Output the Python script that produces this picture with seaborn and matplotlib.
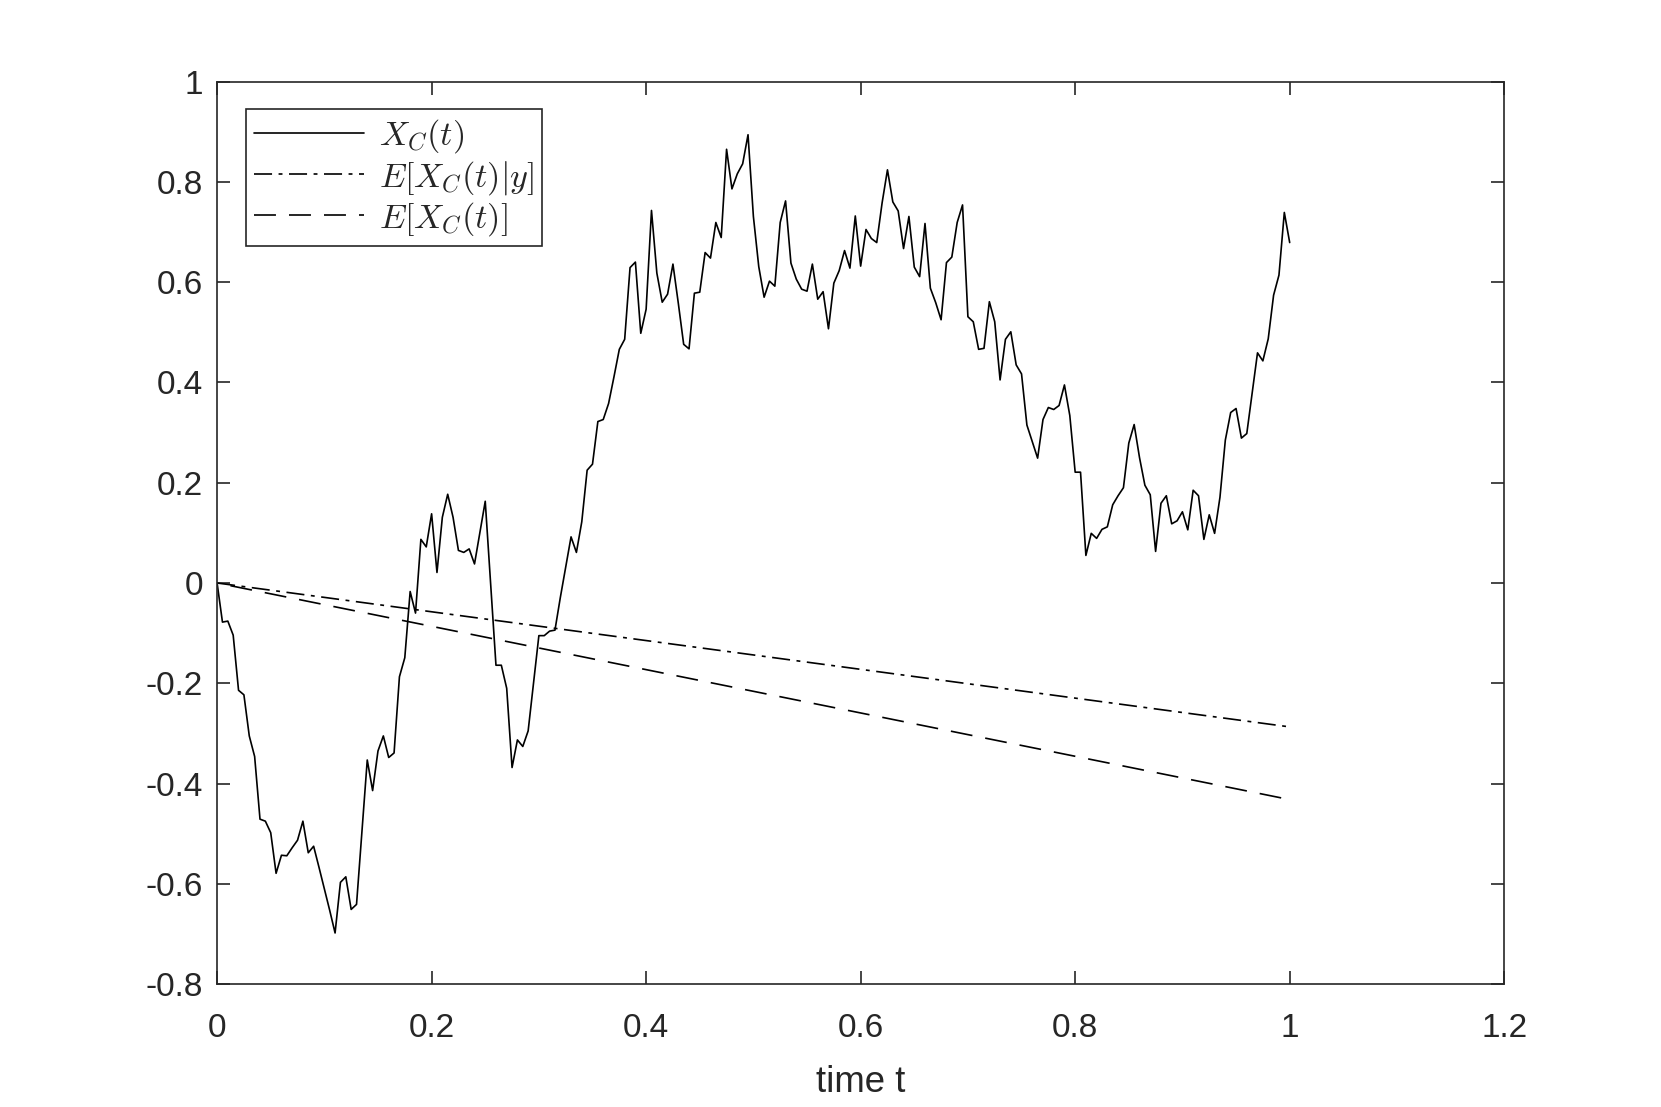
import numpy as np
import matplotlib
matplotlib.use("Agg")
import matplotlib.pyplot as plt
import seaborn as sns

# sampled path X_C(t), 201 points on t = 0 .. 1
x_path = [
    0.000, -0.078, -0.076, -0.104, -0.214, -0.223, -0.305, -0.346, -0.471, -0.475,
    -0.498, -0.579, -0.543, -0.544, -0.528, -0.513, -0.475, -0.538, -0.525, -0.567,
    -0.610, -0.653, -0.698, -0.597, -0.586, -0.651, -0.641, -0.497, -0.353, -0.414,
    -0.335, -0.305, -0.348, -0.339, -0.187, -0.149, -0.017, -0.060, 0.087, 0.072,
    0.138, 0.021, 0.131, 0.177, 0.131, 0.065, 0.061, 0.068, 0.038, 0.100,
    0.163, 0.000, -0.164, -0.164, -0.210, -0.368, -0.313, -0.326, -0.295, -0.200,
    -0.105, -0.105, -0.096, -0.094, -0.029, 0.032, 0.092, 0.061, 0.122, 0.225,
    0.237, 0.322, 0.326, 0.358, 0.411, 0.466, 0.486, 0.629, 0.640, 0.498,
    0.546, 0.743, 0.618, 0.560, 0.576, 0.636, 0.558, 0.476, 0.467, 0.578,
    0.580, 0.659, 0.648, 0.719, 0.689, 0.865, 0.786, 0.816, 0.836, 0.894,
    0.731, 0.631, 0.570, 0.602, 0.592, 0.719, 0.762, 0.638, 0.606, 0.586,
    0.582, 0.636, 0.566, 0.581, 0.507, 0.598, 0.623, 0.663, 0.628, 0.732,
    0.632, 0.705, 0.687, 0.679, 0.758, 0.824, 0.760, 0.742, 0.667, 0.731,
    0.630, 0.611, 0.717, 0.588, 0.559, 0.525, 0.639, 0.650, 0.719, 0.754,
    0.531, 0.521, 0.466, 0.468, 0.561, 0.521, 0.405, 0.486, 0.501, 0.435,
    0.417, 0.315, 0.282, 0.249, 0.326, 0.350, 0.346, 0.354, 0.395, 0.334,
    0.221, 0.221, 0.055, 0.099, 0.089, 0.107, 0.112, 0.156, 0.174, 0.190,
    0.279, 0.316, 0.250, 0.195, 0.176, 0.063, 0.159, 0.174, 0.118, 0.124,
    0.142, 0.106, 0.185, 0.174, 0.087, 0.136, 0.099, 0.171, 0.285, 0.340,
    0.348, 0.289, 0.298, 0.378, 0.459, 0.443, 0.487, 0.574, 0.614, 0.739,
    0.679,
]
t_path = np.linspace(0, 1, len(x_path))

# the two mean lines (straight, read at their ends)
t_mean = [0.0, 1.0]
cond_mean = [0.0, -0.287]
prior_mean = [0.0, -0.432]

xticks = [0, 0.2, 0.4, 0.6, 0.8, 1.0, 1.2]
xtick_labels = ['0', '0.2', '0.4', '0.6', '0.8', '1', '1.2']
yticks = [-0.8, -0.6, -0.4, -0.2, 0, 0.2, 0.4, 0.6, 0.8, 1.0]
ytick_labels = ['-0.8', '-0.6', '-0.4', '-0.2', '0', '0.2', '0.4', '0.6', '0.8', '1']

labels = [r'$X_C(t)$', r'$E[X_C(t)|y]$', r'$E[X_C(t)]$']

sns.set_style("ticks")
plt.rcParams['font.family'] = ['Liberation Sans', 'DejaVu Sans']
plt.rcParams['mathtext.fontset'] = 'cm'
plt.rcParams['axes.unicode_minus'] = False
plt.rcParams['lines.scale_dashes'] = False

axcol = (0.15, 0.15, 0.15)

fig = plt.figure(figsize=(8.305, 5.535), dpi=200)
ax = fig.add_axes([0.1307, 0.111, 0.7749, 0.8153])

sns.lineplot(x=t_path, y=x_path, ax=ax, color='k', lw=0.6, label=labels[0])
sns.lineplot(x=t_mean, y=cond_mean, ax=ax, color='k', lw=0.6,
             linestyle=(0, (6.5, 2.35, 1.4, 2.35)), label=labels[1])
sns.lineplot(x=t_mean, y=prior_mean, ax=ax, color='k', lw=0.6,
             linestyle=(7.7, (7.9, 4.7)), label=labels[2])

ax.set_xlim(0, 1.2)
ax.set_ylim(-0.8, 1.0)
ax.set_xticks(xticks)
ax.set_xticklabels(xtick_labels)
ax.set_yticks(yticks)
ax.set_yticklabels(ytick_labels)

for s in ax.spines.values():
    s.set_visible(True)
    s.set_color(axcol)
    s.set_linewidth(0.6)

ax.tick_params(axis='both', direction='in', length=4.7, width=0.6, color=axcol,
               labelcolor=axcol, labelsize=12, top=True, right=True)
ax.tick_params(axis='x', pad=10.3)
ax.tick_params(axis='y', pad=5)

ax.set_xlabel('time t', fontsize=13.2, color=axcol, labelpad=7.7)
ax.set_ylabel('')

leg = ax.legend(loc='upper left', bbox_to_anchor=(0.0222, 0.9696), borderaxespad=0,
                fontsize=12.3, fancybox=False, framealpha=1, edgecolor=axcol,
                handlelength=3.2, handletextpad=0.45, labelspacing=0.09,
                borderpad=0.25)
leg.get_frame().set_linewidth(0.6)
# legend sample for the dashed line starts on a dash
leg.get_lines()[2].set_linestyle((0, (7.9, 4.7)))

fig.savefig('out.png', dpi=200)
